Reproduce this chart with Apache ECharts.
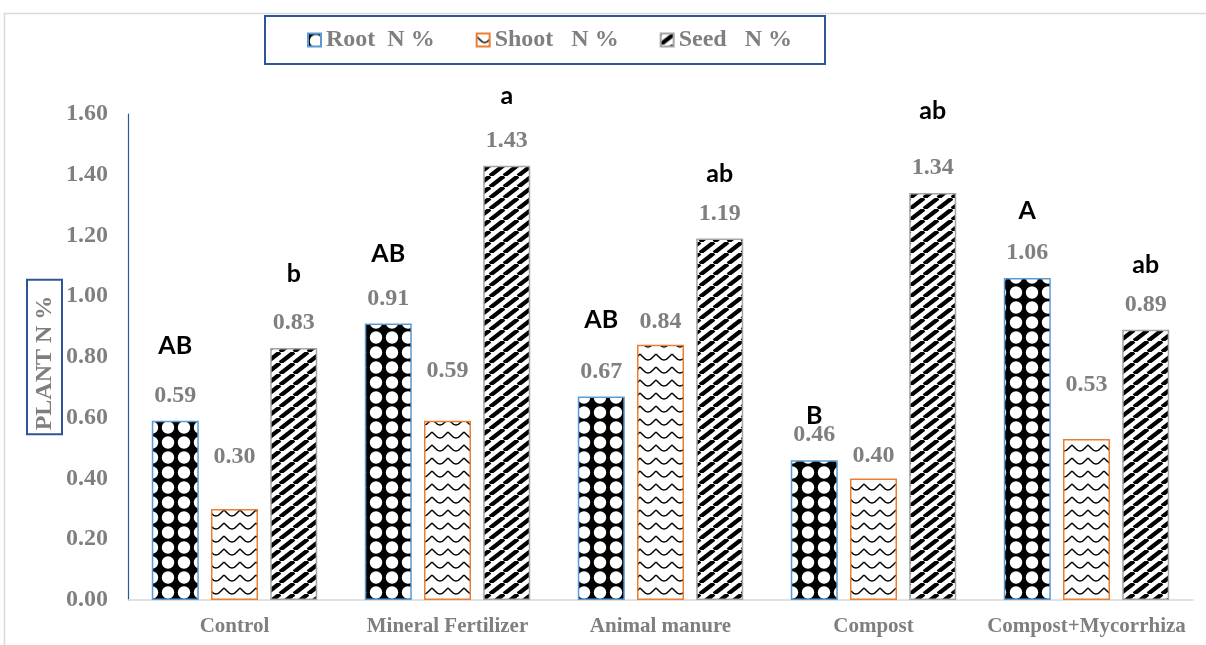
<!DOCTYPE html>
<html>
<head>
<meta charset="utf-8">
<style>
  html, body { margin: 0; padding: 0; background: #fff; }
  #chart { width: 1206px; height: 645px; }
</style>
<script src="https://cdn.jsdelivr.net/npm/echarts@6/dist/echarts.min.js"></script>
</head>
<body>
<div id="chart"></div>
<script>
// Plant nitrogen content (%) by fertilisation treatment
const categories = ['Control', 'Mineral Fertilizer', 'Animal manure', 'Compost', 'Compost+Mycorrhiza'];
const rootN  = [0.59, 0.91, 0.67, 0.46, 1.06];
const shootN = [0.30, 0.59, 0.84, 0.40, 0.53];
const seedN  = [0.83, 1.43, 1.19, 1.34, 0.89];
// significance letters (Duncan groups)
const rootLetters = ['AB', 'AB', 'AB', 'B', 'A'];
const seedLetters = ['b', 'a', 'ab', 'ab', 'ab'];
const seriesNames = ['Root  N %', 'Shoot   N %', 'Seed   N %'];

// ---- fill patterns ----
function makeTile(w, h, draw) {
  const c = document.createElement('canvas');
  c.width = w; c.height = h;
  draw(c.getContext('2d'), w, h);
  return { image: c, repeat: 'repeat' };
}
// black ground with large white dots
const dotPattern = makeTile(16, 15, (ctx, w, h) => {
  ctx.fillStyle = '#000'; ctx.fillRect(0, 0, w, h);
  ctx.fillStyle = '#fff';
  ctx.beginPath(); ctx.arc(w / 2, h / 2, 6.2, 0, Math.PI * 2); ctx.fill();
});
// white ground with black scalloped waves
const wavePattern = makeTile(16, 13, (ctx, w, h) => {
  ctx.fillStyle = '#fff'; ctx.fillRect(0, 0, w, h);
  ctx.strokeStyle = '#000'; ctx.lineWidth = 1.4;
  ctx.beginPath();
  ctx.moveTo(0, 3);
  ctx.lineTo(3, 6);
  ctx.quadraticCurveTo(w / 2, 12, w - 3, 6);
  ctx.lineTo(w, 3);
  ctx.stroke();
});
// white ground with wide upward diagonal stripes
const stripePattern = makeTile(14, 11, (ctx, w, h) => {
  ctx.fillStyle = '#fff'; ctx.fillRect(0, 0, w, h);
  ctx.strokeStyle = '#000'; ctx.lineWidth = 4.2;
  ctx.beginPath();
  for (let k = -1; k <= 1; k++) {
    ctx.moveTo(k * w, h);
    ctx.lineTo(k * w + w, 0);
  }
  ctx.stroke();
});

const GRAY = '#7f7f7f';
const SERIF = '"Liberation Serif", "Times New Roman", serif';
const LETTER_FONT = 'Lato, "Open Sans", sans-serif';

const valueRich = { fontFamily: SERIF, fontWeight: 'bold', fontSize: 24, color: GRAY, lineHeight: 28 };
function letterRich(lh) {
  return { fontFamily: LETTER_FONT, fontWeight: 'bold', fontSize: 25, color: '#000', lineHeight: lh };
}
// gap between a group letter and its value label
const rootLetterGap = [72, 62, 76, 10, 56];
const seedLetterGap = [70, 62, 52, 86, 52];
// shoot labels lifted well above these bars
const shootLift = [40, 38, 11, 11, 42];

function lettered(values, letters, gaps) {
  return values.map((v, i) => ({
    value: v,
    label: {
      formatter: '{l|' + letters[i] + '}\n{v|' + v.toFixed(2) + '}',
      rich: { l: letterRich(gaps[i]), v: valueRich }
    }
  }));
}

const chart = echarts.init(document.getElementById('chart'), null, { renderer: 'canvas' });

chart.setOption({
  backgroundColor: '#ffffff',
  animation: false,
  graphic: [{
    type: 'rect',
    silent: true,
    z: -10,
    shape: { x: 4.5, y: 13.5, width: 1400, height: 800 },
    style: { fill: null, stroke: '#d9d9d9', lineWidth: 1.5 }
  }],
  legend: {
    left: 265,
    top: 16,
    padding: [12, 33, 12, 42],
    borderColor: '#2f5597',
    borderWidth: 2,
    itemWidth: 13,
    itemHeight: 13,
    itemGap: 41,
    icon: 'rect',
    textStyle: { fontFamily: SERIF, fontWeight: 'bold', fontSize: 24, color: GRAY },
    data: seriesNames
  },
  grid: { left: 128, right: 13, top: 114, bottom: 45 },
  xAxis: {
    type: 'category',
    data: categories,
    axisLine: { lineStyle: { color: '#d9d9d9', width: 1.5 } },
    axisTick: { show: false },
    axisLabel: {
      interval: 0,
      margin: 16,
      fontFamily: SERIF, fontWeight: 'bold', fontSize: 21, color: GRAY
    }
  },
  yAxis: {
    type: 'value',
    min: 0, max: 1.6, interval: 0.2,
    name: 'PLANT N %',
    nameLocation: 'middle',
    nameRotate: 90,
    nameGap: 66,
    nameMoveOverlap: false,
    nameTextStyle: {
      fontFamily: SERIF, fontWeight: 'bold', fontSize: 24, color: GRAY,
      lineHeight: 24,
      borderColor: '#2f5597', borderWidth: 2,
      padding: [6, 16, 5, 4]
    },
    axisLine: { show: true, lineStyle: { color: '#2f5597', width: 1.2 } },
    axisTick: { show: false },
    splitLine: { show: false },
    axisLabel: {
      margin: 20,
      formatter: v => v.toFixed(2),
      fontFamily: SERIF, fontWeight: 'bold', fontSize: 24, color: GRAY
    }
  },
  series: [
    {
      name: seriesNames[0],
      type: 'bar',
      barWidth: 47,
      barGap: '26%',
      itemStyle: { color: dotPattern, borderColor: '#5b9bd5', borderWidth: 1.5 },
      label: { show: true, position: 'top', distance: 11 },
      data: lettered(rootN, rootLetters, rootLetterGap)
    },
    {
      name: seriesNames[1],
      type: 'bar',
      barWidth: 47,
      barGap: '26%',
      itemStyle: { color: wavePattern, borderColor: '#ed7d31', borderWidth: 1.5 },
      data: shootN.map((v, i) => ({
        value: v,
        label: {
          show: true, position: 'top', distance: shootLift[i],
          formatter: p => p.value.toFixed(2),
          fontFamily: SERIF, fontWeight: 'bold', fontSize: 24, color: GRAY
        }
      }))
    },
    {
      name: seriesNames[2],
      type: 'bar',
      barWidth: 47,
      barGap: '26%',
      itemStyle: { color: stripePattern, borderColor: '#a5a5a5', borderWidth: 1.5 },
      label: { show: true, position: 'top', distance: 11 },
      data: lettered(seedN, seedLetters, seedLetterGap)
    }
  ]
});
</script>
</body>
</html>
